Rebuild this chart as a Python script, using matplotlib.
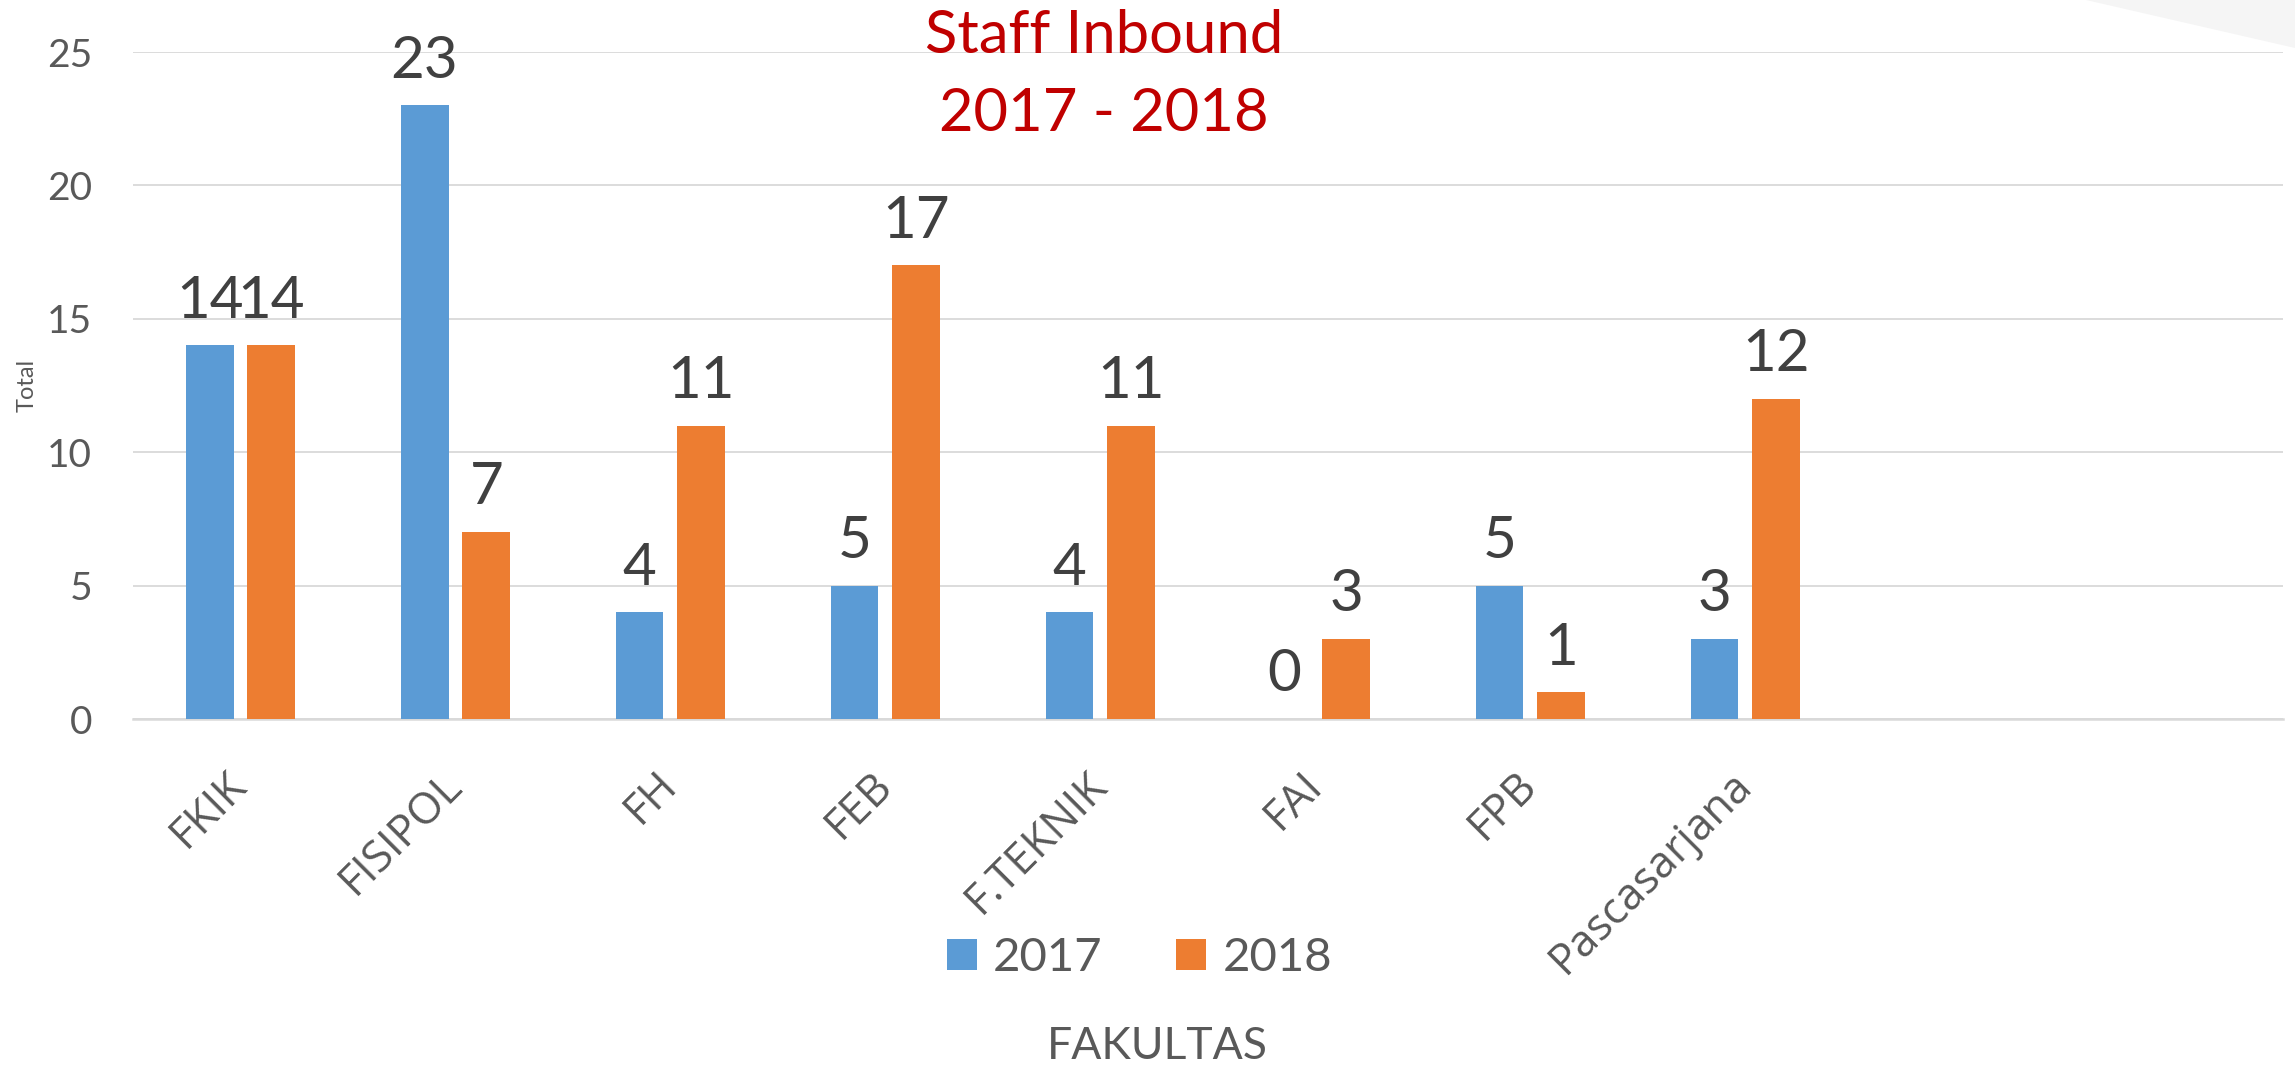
import matplotlib
matplotlib.use('Agg')
import matplotlib.pyplot as plt
from matplotlib.patches import Polygon
import numpy as np

plt.rcParams['font.family'] = ['Lato', 'DejaVu Sans']

categories = ['FKIK', 'FISIPOL', 'FH', 'FEB', 'F.TEKNIK', 'FAI', 'FPB', 'Pascasarjana']
values_2017 = [14, 23, 4, 5, 4, 0, 5, 3]
values_2018 = [14, 7, 11, 17, 11, 3, 1, 12]
series_names = ['2017', '2018']
y_ticks = [0, 5, 10, 15, 20, 25]
n_slots = 10  # the source chart keeps two empty category slots on the right

BLUE = '#5B9BD5'
ORANGE = '#ED7D31'
TICK_GRAY = '#595959'
LABEL_GRAY = '#404040'
GRID_GRAY = '#D9D9D9'
TITLE_RED = '#C00000'


def main():
    fig = plt.figure(figsize=(22.95, 10.66), dpi=100)
    ax = fig.add_axes([0.05795, 0.3255, 0.9368, 0.6257])

    # faint slide decoration in the top right corner
    fig.patches.append(Polygon([(0.909, 1.0), (1.0, 1.0), (1.0, 0.955)],
                               closed=True, transform=fig.transFigure,
                               facecolor='#F5F5F5', edgecolor='none', zorder=0))

    x = np.arange(len(categories))
    width = 0.223
    offset = 0.144
    bars_17 = ax.bar(x - offset, values_2017, width, color=BLUE, label=series_names[0], zorder=3)
    bars_18 = ax.bar(x + offset, values_2018, width, color=ORANGE, label=series_names[1], zorder=3)

    for bars in (bars_17, bars_18):
        for b in bars:
            ax.annotate(str(int(b.get_height())),
                        xy=(b.get_x() + b.get_width() / 2, b.get_height()),
                        xytext=(0, 20), textcoords='offset points',
                        ha='center', va='baseline', fontsize=42, color=LABEL_GRAY)

    ax.set_xlim(-0.5, n_slots - 0.5)
    ax.set_ylim(0, 25)
    ax.set_yticks(y_ticks)
    ax.set_xticks(x)
    ax.set_xticklabels(categories, rotation=45, ha='right', va='center',
                       rotation_mode='anchor', family=['Open Sans', 'DejaVu Sans'])
    ax.tick_params(axis='x', length=0, pad=43, labelsize=31.5, labelcolor=TICK_GRAY)
    ax.tick_params(axis='y', length=0, pad=29.5, labelsize=28, labelcolor=TICK_GRAY)

    ax.grid(axis='y', color=GRID_GRAY, linewidth=1.3, zorder=0)
    ax.set_axisbelow(True)
    for side in ('top', 'right', 'left'):
        ax.spines[side].set_visible(False)
    ax.spines['bottom'].set_color(GRID_GRAY)
    ax.spines['bottom'].set_linewidth(1.8)

    ax.set_ylabel('Total', fontsize=17, color=TICK_GRAY)
    ax.yaxis.set_label_coords(-0.0442, 0.5)
    ax.set_xlabel('FAKULTAS', fontsize=32, color=TICK_GRAY)
    ax.xaxis.set_label_coords(0.4765, -0.4603)

    fig.text(0.481, 1 - 53 / 1066, 'Staff Inbound', ha='center', va='baseline',
             fontsize=43, color=TITLE_RED)
    fig.text(0.481, 1 - 131 / 1066, '2017 - 2018', ha='center', va='baseline',
             fontsize=43, color=TITLE_RED)

    fig.legend(handles=[bars_17, bars_18], labels=series_names, loc='center',
               bbox_to_anchor=(0.4965, 0.1013), ncol=2, frameon=False,
               fontsize=34, labelcolor=TICK_GRAY, handlelength=0.64,
               handleheight=0.64, handletextpad=0.34, columnspacing=1.55,
               borderpad=0)

    fig.savefig('out.png', dpi=100)


if __name__ == '__main__':
    main()
